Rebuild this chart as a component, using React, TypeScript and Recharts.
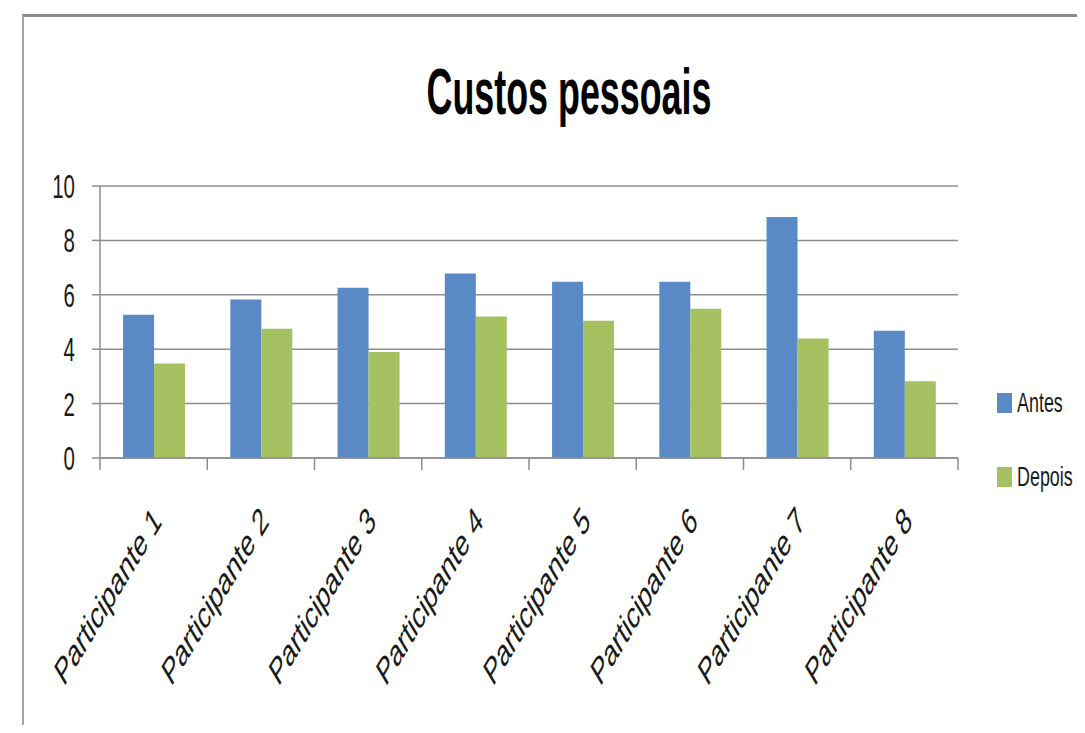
import { BarChart, Bar, XAxis, YAxis, CartesianGrid } from "recharts";

const categories = [
  "Participante 1",
  "Participante 2",
  "Participante 3",
  "Participante 4",
  "Participante 5",
  "Participante 6",
  "Participante 7",
  "Participante 8",
];
const antes = [5.27, 5.83, 6.26, 6.78, 6.48, 6.48, 8.86, 4.68];
const depois = [3.47, 4.75, 3.9, 5.2, 5.05, 5.49, 4.39, 2.82];
const yTicks = [0, 2, 4, 6, 8, 10];

const series = [
  { key: "antes", name: "Antes", color: "#5A8AC6" },
  { key: "depois", name: "Depois", color: "#A5C162" },
];

const data = categories.map((name, i) => ({ name, antes: antes[i], depois: depois[i] }));

const WIDTH = 1085;
const HEIGHT = 733;
const MARGIN = { top: 186, right: 127, bottom: 0, left: 40 };
const Y_W = 60;
const X_H = 275;
const BAND = (WIDTH - MARGIN.left - Y_W - MARGIN.right) / categories.length;
const FONT = "'Liberation Sans', Arial, sans-serif";
const GRID = "#8e8e8e";

function YTick(props: any) {
  const { x, y, payload } = props;
  return (
    <g transform={`translate(${x - 17},${y + 12})`}>
      <text transform="scale(0.62,1)" textAnchor="end" fontSize={33} fontFamily={FONT} fill="#1a1a1a">
        {payload.value}
      </text>
    </g>
  );
}

function XTick(props: any) {
  const { x, y, payload, index } = props;
  const i = index ?? payload.index;
  const half = BAND / 2;
  return (
    <g>
      <line x1={x - half} x2={x - half} y1={y} y2={y + 12} stroke={GRID} strokeWidth={1.5} />
      {i === categories.length - 1 && (
        <line x1={x + half} x2={x + half} y1={y} y2={y + 12} stroke={GRID} strokeWidth={1.5} />
      )}
      <g transform={`translate(${x + 9},${y + 65}) scale(0.6,1) rotate(-45)`}>
        <text textAnchor="end" fontSize={38} fontFamily={FONT} fill="#1a1a1a">
          {payload.value}
        </text>
      </g>
    </g>
  );
}

export default function App() {
  return (
    <div style={{ position: "relative", width: WIDTH, height: HEIGHT, margin: -8, background: "#fff", overflow: "hidden" }}>
      {/* frame */}
      <div
        style={{
          position: "absolute",
          left: 22,
          top: 14,
          right: -10,
          bottom: -10,
          borderTop: "3px solid #8c8c8c",
          borderLeft: "2px solid #a3a3a3",
          pointerEvents: "none",
        }}
      />
      {/* title */}
      <div
        style={{
          position: "absolute",
          left: 569 - 300,
          width: 600,
          top: 60,
          textAlign: "center",
          fontFamily: FONT,
          fontWeight: 700,
          fontSize: 64,
          lineHeight: "64px",
          color: "#000",
          transform: "scaleX(0.56)",
          transformOrigin: "center",
        }}
      >
        Custos pessoais
      </div>

      <BarChart
        width={WIDTH}
        height={HEIGHT}
        data={data}
        margin={MARGIN}
        barCategoryGap="21.5%"
        barGap={0}
      >
        <CartesianGrid vertical={false} stroke={GRID} strokeWidth={1.5} />
        <XAxis
          dataKey="name"
          interval={0}
          height={X_H}
          tickSize={0}
          tickMargin={0}
          tickLine={false}
          axisLine={{ stroke: GRID, strokeWidth: 1.5 }}
          tick={(p: any) => <XTick {...p} />}
        />
        <YAxis
          width={Y_W}
          domain={[0, 10]}
          ticks={yTicks}
          interval={0}
          tickSize={8}
          tickMargin={0}
          axisLine={{ stroke: GRID, strokeWidth: 1.5 }}
          tickLine={{ stroke: GRID, strokeWidth: 1.5 }}
          tick={(p: any) => <YTick {...p} />}
        />
        {series.map((s) => (
          <Bar key={s.key} dataKey={s.key} name={s.name} fill={s.color} isAnimationActive={false} />
        ))}
      </BarChart>

      {/* legend */}
      <div style={{ position: "absolute", left: 997, top: 393 }}>
        {series.map((s, i) => (
          <div key={s.key} style={{ display: "flex", alignItems: "center", height: 20, marginTop: i === 0 ? 0 : 54 }}>
            <div style={{ width: 15, height: 20, background: s.color }} />
            <div
              style={{
                marginLeft: 5,
                fontFamily: FONT,
                fontSize: 28,
                lineHeight: "20px",
                color: "#1a1a1a",
                transform: "scaleX(0.64)",
                transformOrigin: "left center",
                whiteSpace: "nowrap",
              }}
            >
              {s.name}
            </div>
          </div>
        ))}
      </div>
    </div>
  );
}
